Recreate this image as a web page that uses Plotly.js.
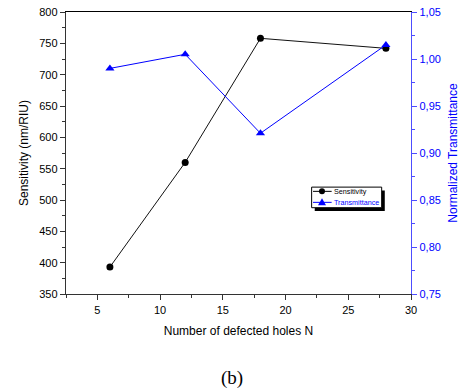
<!DOCTYPE html>
<html><head><meta charset="utf-8">
<script src="https://cdn.plot.ly/plotly-3.0.1.min.js"></script>
<style>body{margin:0;background:#fff}</style>
</head><body>
<div id="chart" style="width:466px;height:392px"></div>
<script>
const holesN = [6, 12, 18, 28];
const sensitivity = [393, 560, 758, 742];
const transmittance = [0.990, 1.005, 0.921, 1.015];
const seriesNames = ['Sensitivity', 'Transmittance'];
const xTitle = 'Number of defected holes N';
const y1Title = 'Sensitivity (nm/RIU)';
const y2Title = 'Normalized Transmittance';

const FF = 'Liberation Sans, Arial, sans-serif';
const tickFont = {family: FF, size: 11, color: '#000'};
const data = [
  {x: holesN, y: sensitivity, name: seriesNames[0], type: 'scatter', mode: 'lines+markers',
   line: {color: '#111', width: 1}, marker: {symbol: 'circle', size: 7, color: '#000'}, yaxis: 'y'},
  {x: holesN, y: transmittance, name: seriesNames[1], type: 'scatter', mode: 'lines+markers',
   line: {color: '#0000ff', width: 1}, marker: {symbol: 'triangle-up', size: 8, color: '#0000ff'}, yaxis: 'y2'},
  {x: [], y: [], xaxis: 'x2', yaxis: 'y', showlegend: false, hoverinfo: 'skip'}
];

// manual compact legend (paper coordinates)
const lg = {x0: 0.712, x1: 0.915, y0: 0.306, y1: 0.379, sx: 0.009, sy: 0.012,
            rows: [0.364, 0.325], lx0: 0.716, lx1: 0.770, mx: 0.742, tx: 0.772};
const colors = ['#000', '#0000ff'];
const shapes = [
  {type: 'rect', xref: 'paper', yref: 'paper', x0: lg.x0 + lg.sx, x1: lg.x1 + lg.sx, y0: lg.y0 - lg.sy, y1: lg.y1 - lg.sy,
   fillcolor: '#000', line: {width: 0}},
  {type: 'rect', xref: 'paper', yref: 'paper', x0: lg.x0, x1: lg.x1, y0: lg.y0, y1: lg.y1,
   fillcolor: '#fff', line: {color: '#000', width: 1}}
];
const annotations = [];
lg.rows.forEach((ry, i) => {
  shapes.push({type: 'line', xref: 'paper', yref: 'paper', x0: lg.lx0, x1: lg.lx1, y0: ry, y1: ry,
               line: {color: colors[i], width: 1}});
  annotations.push({text: seriesNames[i], xref: 'paper', yref: 'paper', x: lg.tx, y: ry, xanchor: 'left', yanchor: 'middle',
                    showarrow: false, font: {family: FF, size: 7.2, color: colors[i]}});
});
const rx = 3 / 345, ry = 3 / 282;
shapes.push({type: 'circle', xref: 'paper', yref: 'paper', x0: lg.mx - rx, x1: lg.mx + rx,
             y0: lg.rows[0] - ry, y1: lg.rows[0] + ry, fillcolor: '#000', line: {width: 0}});
const ty = lg.rows[1];
shapes.push({type: 'path', xref: 'paper', yref: 'paper',
             path: `M ${lg.mx - 4/345} ${ty - 3/282} L ${lg.mx + 4/345} ${ty - 3/282} L ${lg.mx} ${ty + 4/282} Z`,
             fillcolor: '#0000ff', line: {width: 0}});

const layout = {
  width: 466, height: 392,
  margin: {l: 66, r: 55, t: 12, b: 98},
  paper_bgcolor: '#fff', plot_bgcolor: '#fff',
  separators: ', ',
  showlegend: false,
  xaxis: {range: [2.5, 30], dtick: 5, tick0: 5, showgrid: false, zeroline: false,
          showline: true, linecolor: '#333', linewidth: 1.3,
          ticks: 'outside', ticklen: 5, tickcolor: '#333',
          minor: {ticks: 'outside', ticklen: 3, dtick: 2.5, tick0: 0, tickcolor: '#333'},
          tickfont: tickFont,
          title: {text: xTitle, font: {family: FF, size: 12, color: '#000'}, standoff: 12}},
  xaxis2: {overlaying: 'x', side: 'top', range: [2.5, 30], showline: true, linecolor: '#000', linewidth: 1.3,
           showticklabels: false, ticks: '', showgrid: false, zeroline: false, anchor: 'y'},
  yaxis: {range: [350, 800], dtick: 50, showgrid: false, zeroline: false,
          showline: true, linecolor: '#333', linewidth: 1.3,
          ticks: 'outside', ticklen: 5, tickcolor: '#333',
          minor: {ticks: 'outside', ticklen: 3, dtick: 25, tickcolor: '#333'},
          tickfont: tickFont,
          title: {text: y1Title, font: {family: FF, size: 12, color: '#000'}, standoff: 8}},
  yaxis2: {overlaying: 'y', side: 'right', range: [0.75, 1.05], dtick: 0.05, tickformat: '.2f',
           showgrid: false, zeroline: false, showline: true, linecolor: '#4d4dff', linewidth: 1.3,
           ticks: 'outside', ticklen: 5, tickcolor: '#4d4dff',
           minor: {ticks: 'outside', ticklen: 3, dtick: 0.025, tickcolor: '#4d4dff'},
           tickfont: {family: FF, size: 11, color: '#0000ff'},
           title: {text: y2Title, font: {family: FF, size: 12, color: '#0000ff'}, standoff: 8}},
  shapes: shapes,
  annotations: annotations.concat([
    {text: '(b)', xref: 'paper', yref: 'paper', x: 0.48, y: -0.25, xanchor: 'center', yanchor: 'top',
     showarrow: false, font: {family: 'Liberation Serif, Times New Roman, serif', size: 19, color: '#000'}}
  ])
};
Plotly.newPlot('chart', data, layout, {displayModeBar: false, staticPlot: true});
</script>
</body></html>
